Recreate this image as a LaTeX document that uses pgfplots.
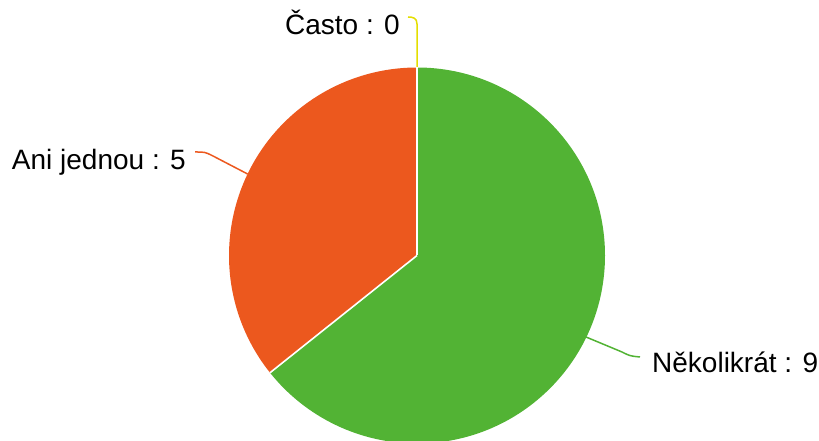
\documentclass[border=0pt]{standalone}
\usepackage{pgfplots}
\pgfplotsset{compat=1.18}
\usepackage{pgfplotstable}
\usepackage{fontspec}
\setmainfont{Liberation Sans}
\definecolor{pgreen}{RGB}{82,179,52}
\definecolor{porange}{RGB}{236,88,30}
\definecolor{pyellow}{RGB}{228,222,0}
\pgfplotstableread{
value
9
5
0
}\piedata
\begin{document}
\begin{tikzpicture}
\pgfplotstablegetelem{0}{value}\of\piedata \let\vA\pgfplotsretval
\pgfplotstablegetelem{1}{value}\of\piedata \let\vB\pgfplotsretval
\pgfplotstablegetelem{2}{value}\of\piedata \let\vC\pgfplotsretval
\pgfmathsetmacro\tot{\vA+\vB+\vC}
\pgfmathsetmacro\aA{90-360*\vA/\tot}
\pgfmathsetmacro\aB{\aA-360*\vB/\tot}
\begin{axis}[x=1pt,y=1pt,xmin=0,xmax=819,ymin=0,ymax=441,hide axis,clip=true,
  at={(0,0)},anchor=south west,scale only axis]
% slices
\fill[pgreen] (axis cs:417,185.5) -- ++(90:188pt) arc[start angle=90,end angle=\aA,radius=188pt] -- cycle;
\fill[porange] (axis cs:417,185.5) -- ++(\aA:188pt) arc[start angle=\aA,end angle=\aB,radius=188pt] -- cycle;
% separators
\draw[white,line width=1.6pt] (axis cs:417,185.5) -- ++(90:188pt);
\draw[white,line width=1.6pt] (axis cs:417,185.5) -- ++(\aA:188pt);
% leaders
\draw[pyellow,line width=1.5pt] (axis cs:417,374) -- (axis cs:417,417) .. controls (axis cs:417,423) and (axis cs:413,424) .. (axis cs:408,424);
\draw[porange,line width=1.5pt] (axis cs:247.6,267) -- (axis cs:213,285) .. controls (axis cs:205,289) .. (axis cs:195,289);
\draw[pgreen,line width=1.5pt] (axis cs:586,104) -- (axis cs:622,89) .. controls (axis cs:630,85) .. (axis cs:640,84);
% labels
\node[anchor=base east,inner sep=0pt,font=\fontsize{28}{34}\selectfont] at (axis cs:400,406) {Často : 0};
\node[anchor=base east,inner sep=0pt,font=\fontsize{28}{34}\selectfont] at (axis cs:186,271) {Ani jednou : 5};
\node[anchor=base west,inner sep=0pt,font=\fontsize{28}{34}\selectfont] at (axis cs:652,68) {Několikrát : 9};
\end{axis}
\pgfresetboundingbox
\path (0,0) rectangle (819pt,441pt);
\end{tikzpicture}
\end{document}
